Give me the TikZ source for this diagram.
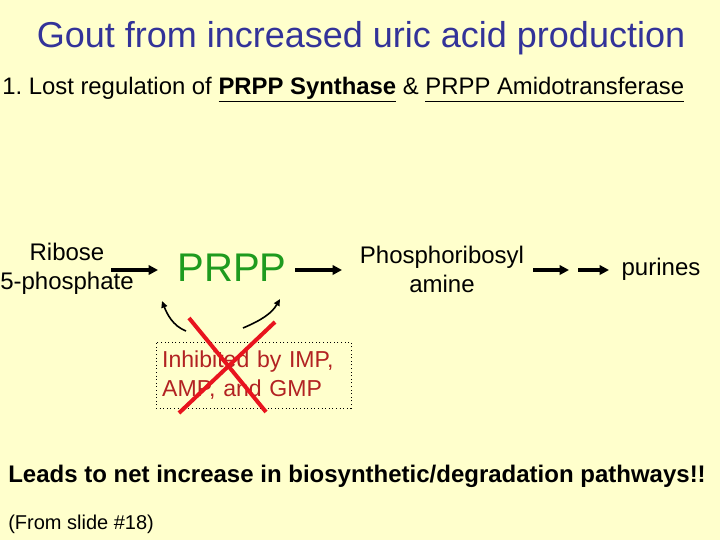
\documentclass[tikz,border=0pt]{standalone}
\usepackage{fontspec}
\setmainfont{Liberation Sans}
\usetikzlibrary{arrows.meta}
\definecolor{bgc}{HTML}{FFFFCC}
\definecolor{titleblue}{HTML}{333399}
\definecolor{prppgreen}{HTML}{1E9B1E}
\definecolor{inhred}{HTML}{B22222}
\definecolor{xred}{HTML}{E8141E}
\tikzset{
  txt/.style={inner sep=0pt, text=black},
  bigarrow/.style={line width=2.4pt, -{Triangle[length=7pt,width=7pt]}},
  fbarrow/.style={line width=1.2pt, -{Triangle[length=5pt,width=4.5pt]}},
  cross/.style={xred, line width=3pt},
}
\frenchspacing
\begin{document}
\begin{tikzpicture}[x=0.75pt,y=-0.75pt]
\useasboundingbox (0,0) rectangle (720,540);
\fill[bgc] (0,0) rectangle (720,540);
\node[txt, text=titleblue, font=\fontsize{27}{32}\selectfont] (title) at (361,38) {Gout from increased uric acid production};
\node[txt, anchor=west, font=\fontsize{17.9}{21}\selectfont] (line1) at (2,90) {1. Lost regulation of \underline{\textbf{PRPP Synthase}\vphantom{y}} \& \underline{PRPP Amidotransferase\vphantom{y}}};
\node[txt, align=center, font=\fontsize{18}{21.75}\selectfont] (ribose) at (67,269) {Ribose\\5-phosphate};
\node[txt, text=prppgreen, font=\fontsize{30}{36}\selectfont] (prpp) at (232,268) {PRPP};
\node[txt, align=center, font=\fontsize{18}{21.75}\selectfont] (pra) at (442,269) {Phosphoribosyl\\amine};
\node[txt, font=\fontsize{18}{21.75}\selectfont] (purines) at (661,269) {purines};
\node[draw, dotted, line width=0.7pt, minimum width=146.25pt, minimum height=49.5pt, inner xsep=4.5pt, text width=137pt, align=left, text=inhred, font=\fontsize{17.3}{21.75}\selectfont] (inh) at (253.5,375) {Inhibited by IMP,\\AMP, and GMP};
\node[txt, anchor=west, font=\bfseries\fontsize{18}{21.75}\selectfont] (leads) at (8,476) {Leads to net increase in biosynthetic/degradation pathways!!};
\node[txt, anchor=west, font=\fontsize{15}{18}\selectfont] (from) at (8,524) {(From slide \#18)};
% arrow coordinates
\coordinate (a1s) at (111,270); \coordinate (a1e) at (158,270);
\coordinate (a2s) at (295,270); \coordinate (a2e) at (342,270);
\coordinate (a3s) at (533,270); \coordinate (a3e) at (569,270);
\coordinate (a4s) at (578,270); \coordinate (a4e) at (609,270);
\draw[bigarrow] (a1s) -- (a1e);
\draw[bigarrow] (a2s) -- (a2e);
\draw[bigarrow] (a3s) -- (a3e);
\draw[bigarrow] (a4s) -- (a4e);
% feedback arrows
\coordinate (f1s) at (186,331); \coordinate (f1e) at (162,301);
\coordinate (f2s) at (243,328); \coordinate (f2e) at (280,299);
\draw[fbarrow] (f1s) .. controls (173,326) and (167,314) .. (f1e);
\draw[fbarrow] (f2s) .. controls (262,320) and (272,313) .. (f2e);
% red cross
\coordinate (x1s) at (189,318); \coordinate (x1e) at (266,412);
\coordinate (x2s) at (275,322); \coordinate (x2e) at (179,413);
\draw[cross] (x1s) -- (x1e);
\draw[cross] (x2s) -- (x2e);
\end{tikzpicture}
\end{document}
